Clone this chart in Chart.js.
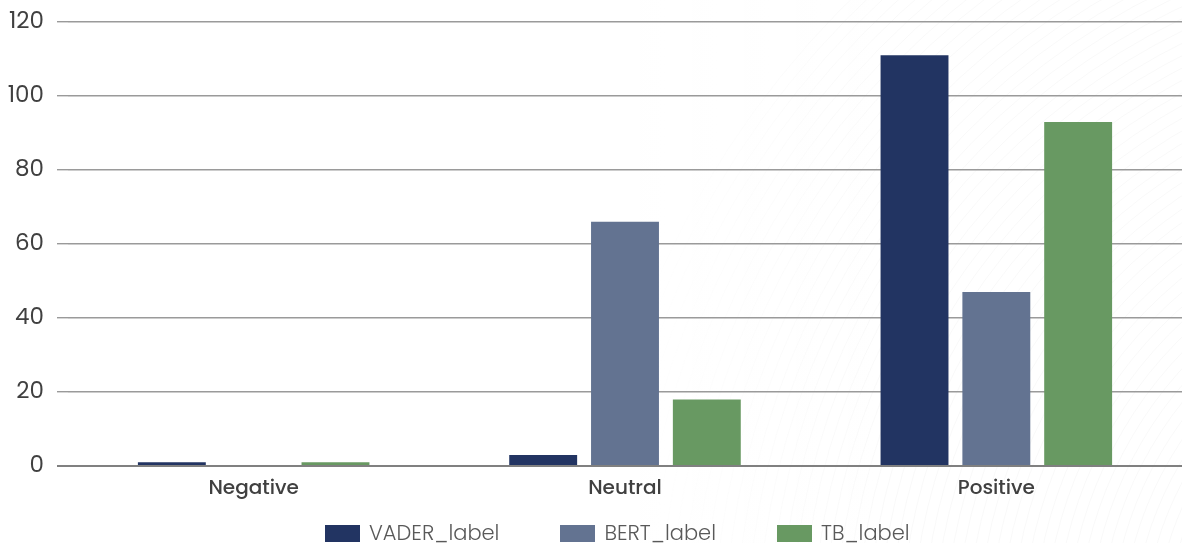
<!DOCTYPE html>
<html>
<head>
<meta charset="utf-8">
<script src="https://cdn.jsdelivr.net/npm/chart.js@4.4.1/dist/chart.umd.min.js"></script>
<style>
  html, body { margin: 0; padding: 0; background: #ffffff; }
  #wrap { position: relative; width: 1182px; height: 543px; overflow: hidden; }
  #chart { position: absolute; left: 0; top: 0; }
  #legend {
    position: absolute; left: 325px; top: 523px;
    display: flex; align-items: center; gap: 61px;
    font-family: "Poppins", "Open Sans", sans-serif; font-weight: 300;
    font-size: 21px; color: #595959; line-height: 20px; white-space: nowrap;
  }
  #legend .item { display: flex; align-items: center; }
  #legend .swatch { width: 35px; height: 17px; margin-right: 9px; }
</style>
</head>
<body>
<div id="wrap">
  <canvas id="chart" width="1182" height="543"></canvas>
  <div id="legend"></div>
</div>
<script>
// Sentiment categories and the counts from each labelling method
const categories = ["Negative", "Neutral", "Positive"];
const seriesNames = ["VADER_label", "BERT_label", "TB_label"];
const vaderCounts = [1, 3, 111];
const bertCounts = [0, 66, 47];
const tbCounts = [1, 18, 93];
const seriesColors = ["#223462", "#637391", "#689962"];
const yTicks = [0, 20, 40, 60, 80, 100, 120];

const FONT = "'Poppins', 'Open Sans', sans-serif";
const seriesValues = [vaderCounts, bertCounts, tbCounts];

// Faint concentric arcs in the upper-right background
const backdrop = {
  id: "backdrop",
  beforeDraw(chart) {
    const ctx = chart.ctx;
    ctx.save();
    ctx.lineWidth = 1;
    const cx = 1480, cy = 640;
    for (let r = 260; r < 900; r += 11) {
      ctx.beginPath();
      ctx.arc(cx, cy, r, Math.PI * 0.95, Math.PI * 1.5);
      ctx.strokeStyle = "rgba(120,120,120,0.045)";
      ctx.stroke();
    }
    // fade the arcs out toward the left
    const g = ctx.createLinearGradient(640, 0, 900, 0);
    g.addColorStop(0, "rgba(255,255,255,1)");
    g.addColorStop(1, "rgba(255,255,255,0)");
    ctx.fillStyle = g;
    ctx.fillRect(0, 0, 900, chart.height);
    ctx.restore();
  }
};

new Chart(document.getElementById("chart"), {
  type: "bar",
  data: {
    labels: categories,
    datasets: seriesNames.map((name, i) => ({
      label: name,
      data: seriesValues[i],
      backgroundColor: seriesColors[i],
      borderWidth: 0,
      categoryPercentage: 0.661,
      barPercentage: 0.83
    }))
  },
  options: {
    responsive: false,
    animation: false,
    layout: { padding: { top: 22, right: 0, bottom: 39, left: 0 } },
    plugins: { legend: { display: false }, tooltip: { enabled: false } },
    scales: {
      x: {
        grid: { display: false },
        border: { display: false },
        ticks: {
          color: "#404040",
          font: { family: FONT, size: 20, weight: "500" },
          padding: 3
        }
      },
      y: {
        min: 0,
        max: 120,
        afterFit(scale) {
          scale.width = 68;
          scale.paddingTop = 0;
          scale.paddingBottom = 0;
        },
        afterBuildTicks(scale) { scale.ticks = yTicks.map(v => ({ value: v })); },
        border: { display: false },
        grid: {
          drawTicks: true,
          tickLength: 11,
          color: ctx => ctx.tick && ctx.tick.value === 0 ? "#808080" : "#9a9a9a",
          lineWidth: ctx => ctx.tick && ctx.tick.value === 0 ? 2 : 1.4
        },
        ticks: {
          color: "#404040",
          font: { family: FONT, size: 23 },
          padding: 13
        }
      }
    }
  },
  plugins: [backdrop]
});

// Legend built from the same series arrays
const legend = document.getElementById("legend");
seriesNames.forEach((name, i) => {
  const item = document.createElement("div");
  item.className = "item";
  const sw = document.createElement("span");
  sw.className = "swatch";
  sw.style.background = seriesColors[i];
  const tx = document.createElement("span");
  tx.textContent = name;
  item.appendChild(sw);
  item.appendChild(tx);
  legend.appendChild(item);
});
</script>
</body>
</html>
